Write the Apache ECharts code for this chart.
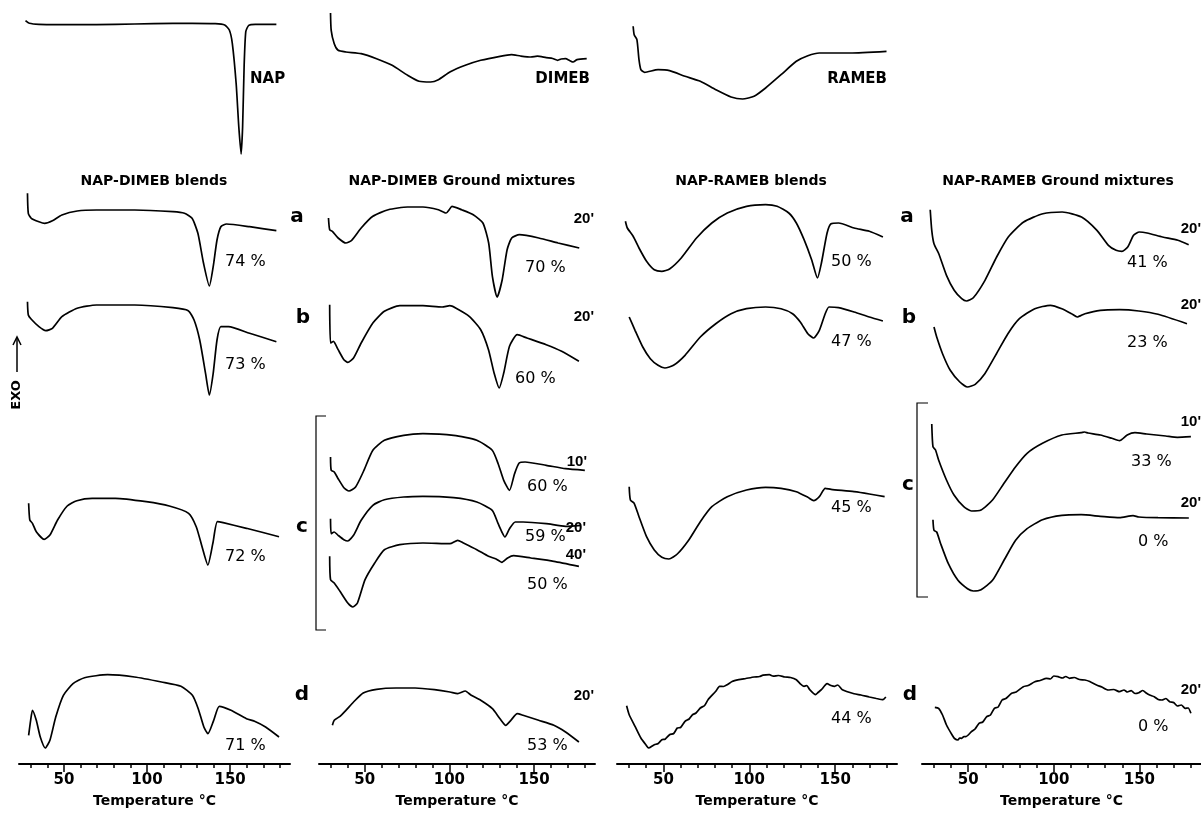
<!DOCTYPE html>
<html>
<head>
<meta charset="utf-8">
<style>
  html, body { margin: 0; padding: 0; background: #fff; }
  #chart { width: 1201px; height: 816px; }
</style>
<script src="https://cdn.jsdelivr.net/npm/echarts@6/dist/echarts.min.js"></script>
</head>
<body>
<div id="chart"></div>
<script>
// DSC traces: [temperature °C, heat flow (arb. units, exo up)]
const nap = [[26.9,133.3],[29.2,130.7],[35,129.7],[58,129.3],[81.1,129.7],[104.1,130.3],[127.1,130.7],[141,130.3],[146.7,129],[149.5,124],[151.3,110.7],[153.6,70.7],[155.2,27.3],[156.6,0],[157.5,27.3],[158.4,87.3],[159.4,122.3],[161.2,128.7],[165.1,129.7],[177.8,129.7]];
const dimeb = [[29.8,69],[30.2,51.7],[32,38.3],[34.3,31.7],[38.9,30],[47.9,28.3],[57,23.3],[66.2,16.7],[75.3,6.7],[82.1,0.7],[88.9,0],[93.5,2.3],[100.3,10],[109.4,16.7],[118.5,21.7],[129.9,25.7],[136.7,27.3],[142,26],[148.1,25],[152,25.8],[157.2,24.3],[161,23.5],[164,21.7],[166,23],[168.6,23.3],[171,21.5],[173.1,20],[175.4,22.3],[181.1,23.3]];
const rameb = [[32.4,72.7],[33,64.3],[34.6,59.3],[35.8,39.3],[36.9,29.3],[39.1,26.7],[46.9,29.3],[53.6,28.3],[62.6,22.7],[71.5,17.7],[80.5,9.3],[89.4,2],[96.1,0],[102.8,2.7],[109.5,11],[118.5,24.3],[127.4,37.7],[134.1,43.3],[140.8,46],[158.7,46],[179.9,47.7]];

// NAP-DIMEB blends
const dimBlendA = [[28.1,92.7],[28.6,72.7],[30.4,67.7],[35,64.3],[38.4,62.7],[43.1,65.3],[48.8,71],[58,75],[69.6,76],[92.6,76],[115.6,74.3],[122.5,72.7],[127.1,67.7],[130.6,52.7],[134,22.7],[137.5,0],[139.8,19.3],[142.1,46],[144.4,59.3],[147.8,62],[161.7,59.3],[177.8,55.3]];
const dimBlendB = [[28.1,93.3],[28.6,80],[30.4,75.7],[35,68.3],[39.1,64.3],[43.1,66.7],[48.8,78.3],[58,86.7],[69.6,90],[92.6,90],[115.6,87.3],[124.8,84.3],[128.3,75],[131.7,55],[135.2,21.7],[137.5,0],[139.8,21.7],[142.1,55],[144.4,68.3],[149,68.3],[161.7,61.7],[177.8,53.3]];
const dimBlendC = [[28.8,61.7],[29.5,45],[31.1,41.7],[33.4,33.3],[38.1,25.7],[41.6,30],[46.2,45],[52,59],[57.8,64.3],[67,66.7],[81,66.7],[99.5,63.3],[113.4,59],[125,51.7],[129.6,38.3],[133.1,18.3],[136.6,0],[139.6,21.7],[142.3,43.3],[145.8,42.3],[159.8,36.7],[179.4,28.3]];
const dimBlendD = [[28.8,12.7],[30,27.7],[31.1,37.7],[33.4,27.7],[35.8,11],[38.8,0],[41.6,7.7],[45.1,31],[49.7,52.7],[55.5,64.3],[62.4,70.3],[76.3,73.3],[92.5,71],[108.7,66],[120.4,61.7],[127.3,52.7],[130.8,39.3],[134.2,21],[136.6,14.3],[140.1,27.7],[143.5,41.7],[150.5,37.7],[159.8,29.3],[165,26.5],[171.3,21],[179.4,11]];

// NAP-DIMEB ground mixtures
const dimGrindA = [[28.6,79],[29.3,67.3],[30.9,65.7],[34.3,59],[38.9,54],[42.3,56.7],[47.9,69],[54.8,80.7],[63.9,87.3],[75.3,90],[84.4,90],[93.5,87.3],[98.1,84],[99.9,87.3],[101.5,90.7],[107.2,87.3],[114.1,82.3],[119.8,74],[123.2,54],[125.4,20.7],[128.2,0],[131.2,17.3],[134.1,47.3],[136.8,59],[141.4,62.3],[152.8,59],[164.2,54],[176.7,49]];
const dimGrindB = [[29.3,83.3],[29.8,45],[31.5,46.7],[34.3,38.3],[37.7,28.3],[40,25.7],[43.4,30],[47.9,45],[54.8,65],[61.6,76.7],[70.7,82.3],[84.4,82.3],[95.7,81],[100.3,82.3],[103.7,80],[111.7,71.7],[118.5,58.3],[123.1,38.3],[126.4,15],[129.4,0],[132.1,15],[135.5,41.7],[140.1,53.3],[145.8,50],[157.2,43.3],[166.3,36.7],[176.5,26.7]];
const dimGrindC10 = [[29.8,34],[30.2,20.7],[32,19],[34.3,12.3],[37.7,3.3],[40.7,0],[44.6,4],[49.1,19],[54.8,40.7],[61.6,50.7],[73,55.7],[84.4,57.3],[102.5,55.7],[116.2,50.7],[125.3,40.7],[128.8,27.3],[132.1,10.7],[135.5,0.7],[138.5,17.3],[141.2,28],[144.7,29],[157.2,25.7],[168.6,22.3],[180,20.7]];
const dimGrindC20 = [[29.8,22.3],[30.2,7.3],[32,9],[34.3,5.7],[37.7,1.3],[40,0],[43.4,5.7],[47.9,20.7],[54.8,35.7],[61.6,41.3],[73,44],[84.4,44.7],[102.5,43.3],[116.2,39],[125.3,30.7],[128.8,17.3],[131,9],[132.8,4],[135.5,12.3],[138.9,19],[143.5,19],[157.2,17.3],[168.6,14.7],[177.7,15.7]];
const dimGrindC40 = [[29.3,50.7],[29.8,27.3],[32,24],[35.4,15.7],[40,4],[43,0],[45.7,4],[50.2,27.3],[55.9,44],[61.6,57.3],[70.7,62.3],[84.4,64],[100.3,63.3],[104.9,66.7],[108.3,64],[116.2,57.3],[123.1,50.7],[127.6,48],[131,44.7],[134.4,49],[137.9,51.3],[148.1,49],[161.7,45.7],[176.5,40.7]];
const dimGrindD = [[30.9,16.7],[32,21.7],[35.4,25.7],[38.9,31.7],[43.4,40],[49.1,49],[57,52.7],[68.5,54],[79.8,54],[91.2,52.3],[100.3,50],[104.9,48.3],[109.4,51],[112.9,46.7],[118.5,41.7],[125.4,33.3],[129.9,23.3],[133.3,16.7],[136.3,21.7],[140.1,28.3],[143.5,26.7],[152.7,21.7],[161.7,16.7],[168.6,10],[176.5,0]];

// NAP-RAMEB blends
const ramBlendA = [[27.9,56.7],[29,50],[32.4,41.7],[35.8,30],[40.2,16.7],[44.7,8.3],[49.1,6.7],[53.6,9],[60.4,20],[69.3,40],[78.2,55],[87.2,65],[98.4,71.7],[109.5,73.3],[116.2,71.7],[123,65],[127.4,55],[131.9,38.3],[136.3,18.3],[139.7,0],[142,15],[145.3,45],[147.6,54.3],[152,55],[161,50],[169.9,46.7],[177.8,41]];
const ramBlendB = [[30.1,51],[33.5,37.7],[38,21],[42.4,9.3],[46.9,2.7],[50.9,0],[55.9,2.7],[62.6,12.7],[71.5,31],[80.5,44.3],[89.4,54.3],[98.4,59.3],[109.5,61],[118.5,59.3],[125.2,54.3],[129.7,46],[134.1,34.3],[137.5,30],[140.8,37.7],[144.2,54.3],[146.4,61],[152,60.3],[161,56],[169.9,51],[177.8,47]];
const ramBlendC = [[30.1,72.3],[30.8,59],[33,55.7],[35.8,42.3],[40.2,22.3],[44.7,9],[49.1,1.7],[53.2,0],[58.1,5],[64.8,19],[71.5,37.3],[78.2,52.3],[87.2,62.3],[98.4,69],[109.5,71.7],[118.5,70.7],[127.4,67.3],[134.1,61.7],[137.5,58.3],[140.8,62.3],[144.2,70.7],[147.6,69.7],[161,67.3],[169.9,65],[178.8,62.3]];
const ramBlendD = [[28.6,42.3],[30.1,33.3],[33.5,21.7],[36.9,10],[40.2,2.3],[41.3,0],[44.7,3.3],[47,4.5],[49.1,8.3],[51,8.8],[53.6,13.3],[56,14.5],[58.1,20],[60,20.5],[62.6,26.7],[65,29],[67,33.3],[69,35],[71.5,40],[74,42.5],[76,48.3],[80.5,56.7],[82.7,61.7],[85,61.5],[87.2,63.3],[90,66.5],[93.9,68.3],[98,69.5],[102.8,71],[106,71.5],[108,72.8],[111.7,73.3],[114,71.8],[117,72.5],[120.7,71],[124,70.5],[127.4,68.3],[129.5,64.5],[131.9,61.7],[133.5,62.5],[135.2,58.3],[138.6,53.3],[140,55.5],[142,58.3],[145.3,64.3],[147.5,62.5],[149.8,61.7],[151.5,63],[154.2,58.3],[161,54.3],[165,53],[169.9,51],[174,49.5],[177.8,48.3],[179.5,51]];

// NAP-RAMEB ground mixtures
const ramGrindA = [[27.8,91.3],[28.7,70.7],[30,57.3],[32.8,47.3],[37.3,25.7],[41.8,10.7],[46.2,2.3],[49,0],[53,3.3],[59.8,20.7],[66.6,44],[73.4,64],[82.4,79],[93.6,87.3],[104.9,89],[116.2,84],[125.2,70.7],[131.9,55.7],[136.4,50.7],[139.8,49.7],[143.2,54],[146.6,65.7],[150,69],[154.5,68],[163.5,64],[172.5,60.7],[178.8,56.3]];
const ramGrindB = [[30,60],[31.6,50],[35,33.3],[39.5,16.7],[45.1,5],[49.6,0],[54.1,2.7],[59.7,13.3],[66.5,33.3],[73.2,53.3],[79.9,68.3],[88.9,78.3],[98,81.7],[104.7,78.3],[110.4,73.3],[113.7,70],[118.2,73.3],[127.2,76.7],[138.4,77.3],[149.7,76],[160.9,72.7],[177.8,63.3]];
const ramGrindC10 = [[28.7,87],[29.4,64.3],[30.9,61],[32.7,51],[37.3,31],[41.7,16],[47.4,4.3],[51.9,0],[57.5,1],[64.2,11],[70.9,27.7],[77.7,44.3],[84.4,57.7],[93.4,67.7],[104.7,76],[116,78.3],[118,79],[120,78],[127.2,76],[133.9,72.7],[138.4,70.3],[142.9,76],[147.4,78.3],[154.2,77],[165.4,75],[172.2,73.7],[180.1,74.3]];
const ramGrindC20 = [[29.4,71.3],[30,60.7],[31.6,59],[33.9,47.3],[38.4,27.3],[44,10.7],[49.6,2.3],[53,0],[57.5,1.3],[64.2,10.7],[70.9,30.7],[77.7,50.7],[84.4,62.3],[93.4,71.3],[104.7,75.7],[116,76.3],[127.2,74.7],[138.4,73.3],[146.3,75.3],[149.7,74],[160.9,73.3],[178.9,73]];
const ramGrindD = [[30.5,32.7],[32.7,31.7],[35,25],[37.3,15],[40.6,5],[42,1.5],[44,0],[45,2],[46.2,1.7],[47.5,3.5],[48.5,3.3],[51.9,8.3],[54,11],[56.3,16.7],[58.5,18],[60.8,23.3],[63,25],[65.3,31.7],[67.5,33],[69.8,40],[72,41.5],[75.4,46.7],[78,48],[82.2,53.3],[85,54.5],[88.9,58.3],[92,59.5],[95.7,61.7],[98,61],[100,64],[102.5,63.3],[105,62],[107,63.5],[109.2,61.7],[112,62.5],[115,60.5],[118.2,60],[121,58.5],[125,55],[128,53],[131.7,50],[135,50.5],[138.4,48.3],[141,50],[143,48],[145.2,49.3],[147.5,46.5],[149.7,47.3],[152,49.5],[154.2,46.7],[156,45],[158.7,43.3],[161,40.5],[163.2,40],[165.5,41.5],[167.7,38.3],[170,37.5],[172.2,34],[174.5,35],[176.7,31.7],[178.5,32],[180.1,26.7]];

const minorTicks = [30, 40, 50, 60, 70, 80, 90, 100, 110, 120, 130, 140, 150, 160, 170, 180];
const majorTicks = [50, 100, 150];

// layout
const tMin = 23, tMax = 186;
const cols = [[19, 271], [319, 276], [617, 280], [922, 279]];
const axisY = 764;
const traces = [
  { data: nap, col: 0, base: 154, h: 134 },
  { data: dimeb, col: 1, base: 82, h: 69 },
  { data: rameb, col: 2, base: 99, h: 73 },
  { data: dimBlendA, col: 0, base: 286, h: 93 },
  { data: dimBlendB, col: 0, base: 395, h: 94 },
  { data: dimBlendC, col: 0, base: 565, h: 67 },
  { data: dimBlendD, col: 0, base: 748, h: 74 },
  { data: dimGrindA, col: 1, base: 297, h: 91 },
  { data: dimGrindB, col: 1, base: 388, h: 84 },
  { data: dimGrindC10, col: 1, base: 491, h: 58 },
  { data: dimGrindC20, col: 1, base: 541, h: 45 },
  { data: dimGrindC40, col: 1, base: 607, h: 67 },
  { data: dimGrindD, col: 1, base: 742, h: 54 },
  { data: ramBlendA, col: 2, base: 278, h: 74 },
  { data: ramBlendB, col: 2, base: 368, h: 61 },
  { data: ramBlendC, col: 2, base: 559, h: 72 },
  { data: ramBlendD, col: 2, base: 748, h: 74 },
  { data: ramGrindA, col: 3, base: 301, h: 92 },
  { data: ramGrindB, col: 3, base: 387, h: 82 },
  { data: ramGrindC10, col: 3, base: 511, h: 87 },
  { data: ramGrindC20, col: 3, base: 591, h: 76 },
  { data: ramGrindD, col: 3, base: 740, h: 64 }
];

const sans = '"DejaVu Sans", sans-serif';
const timeFont = 'bold 15px "Liberation Sans", Arial';
const pctFont = '16px ' + sans;
const letterFont = 'bold 20px ' + sans;
const labels = [
  // text, x, y, align, font
  ['NAP', 250, 79, 'left', 'bold 15px ' + sans],
  ['DIMEB', 590, 79, 'right', 'bold 15px ' + sans],
  ['RAMEB', 887, 79, 'right', 'bold 15px ' + sans],
  ['NAP-DIMEB blends', 154, 181, 'center', 'bold 14px ' + sans],
  ['NAP-DIMEB Ground mixtures', 462, 181, 'center', 'bold 14px ' + sans],
  ['NAP-RAMEB blends', 751, 181, 'center', 'bold 14px ' + sans],
  ['NAP-RAMEB Ground mixtures', 1058, 181, 'center', 'bold 14px ' + sans],
  ['a', 297, 217, 'center', letterFont],
  ['b', 303, 318, 'center', letterFont],
  ['c', 302, 527, 'center', letterFont],
  ['d', 302, 695, 'center', letterFont],
  ['a', 907, 217, 'center', letterFont],
  ['b', 909, 318, 'center', letterFont],
  ['c', 908, 485, 'center', letterFont],
  ['d', 910, 695, 'center', letterFont],
  ["20'", 594, 219, 'right', timeFont],
  ["20'", 594, 317, 'right', timeFont],
  ["10'", 587, 462, 'right', timeFont],
  ["20'", 586, 528, 'right', timeFont],
  ["40'", 586, 555, 'right', timeFont],
  ["20'", 594, 696, 'right', timeFont],
  ["20'", 1201, 229, 'right', timeFont],
  ["20'", 1201, 305, 'right', timeFont],
  ["10'", 1201, 422, 'right', timeFont],
  ["20'", 1201, 503, 'right', timeFont],
  ["20'", 1201, 690, 'right', timeFont],
  ['74 %', 225, 262, 'left', pctFont],
  ['73 %', 225, 365, 'left', pctFont],
  ['72 %', 225, 557, 'left', pctFont],
  ['71 %', 225, 746, 'left', pctFont],
  ['70 %', 525, 268, 'left', pctFont],
  ['60 %', 515, 379, 'left', pctFont],
  ['60 %', 527, 487, 'left', pctFont],
  ['59 %', 525, 537, 'left', pctFont],
  ['50 %', 527, 585, 'left', pctFont],
  ['53 %', 527, 746, 'left', pctFont],
  ['50 %', 831, 262, 'left', pctFont],
  ['47 %', 831, 342, 'left', pctFont],
  ['45 %', 831, 508, 'left', pctFont],
  ['44 %', 831, 719, 'left', pctFont],
  ['41 %', 1127, 263, 'left', pctFont],
  ['23 %', 1127, 343, 'left', pctFont],
  ['33 %', 1131, 462, 'left', pctFont],
  ['0 %', 1138, 542, 'left', pctFont],
  ['0 %', 1138, 727, 'left', pctFont]
];

const grid = [], xAxis = [], yAxis = [], series = [];

traces.forEach((t, i) => {
  grid.push({ left: cols[t.col][0], width: cols[t.col][1], top: t.base - t.h, height: t.h });
  xAxis.push({ type: 'value', gridIndex: i, min: tMin, max: tMax, show: false });
  yAxis.push({ type: 'value', gridIndex: i, min: 0, max: t.h, show: false });
  series.push({
    type: 'line',
    xAxisIndex: i,
    yAxisIndex: i,
    data: t.data,
    showSymbol: false,
    smooth: 0.2,
    clip: false,
    silent: true,
    lineStyle: { color: '#000', width: 1.7 }
  });
});

cols.forEach((c) => {
  const gi = grid.length;
  grid.push({ left: c[0], width: c[1], top: axisY - 60, height: 60 });
  yAxis.push({ type: 'value', gridIndex: gi, min: 0, max: 1, show: false });
  // minor ticks + axis line
  xAxis.push({
    type: 'value', gridIndex: gi, min: tMin, max: tMax, position: 'bottom',
    axisLine: { show: true, lineStyle: { color: '#000', width: 2 } },
    axisTick: { show: true, customValues: minorTicks, length: 4, lineStyle: { color: '#000', width: 1.5 } },
    axisLabel: { show: false },
    splitLine: { show: false }
  });
  // major ticks + labels
  xAxis.push({
    type: 'value', gridIndex: gi, min: tMin, max: tMax, position: 'bottom',
    axisLine: { show: false },
    axisTick: { show: true, customValues: majorTicks, length: 8, lineStyle: { color: '#000', width: 1.5 } },
    axisLabel: {
      customValues: majorTicks, margin: 9, color: '#000',
      fontFamily: sans, fontWeight: 'bold', fontSize: 15
    },
    splitLine: { show: false },
    name: 'Temperature °C',
    nameLocation: 'middle',
    nameGap: 30,
    nameTextStyle: { color: '#000', fontFamily: sans, fontWeight: 'bold', fontSize: 14 }
  });
});

const graphic = labels.map(l => ({
  type: 'text',
  x: l[1],
  y: l[2],
  silent: true,
  style: { text: l[0], font: l[4], fill: '#000', align: l[3], verticalAlign: 'middle' }
}));

graphic.push(
  { type: 'text', x: 17, y: 395, rotation: Math.PI / 2, silent: true,
    style: { text: 'EXO', font: 'bold 13px ' + sans, fill: '#000', align: 'center', verticalAlign: 'middle' } },
  { type: 'polyline', silent: true, shape: { points: [[17, 372], [17, 338]] }, style: { stroke: '#000', lineWidth: 1.5 } },
  { type: 'polyline', silent: true, shape: { points: [[13, 345], [17, 337], [21, 345]] }, style: { stroke: '#000', lineWidth: 1.5, fill: null } },
  { type: 'polyline', silent: true, shape: { points: [[326, 416], [316, 416], [316, 630], [326, 630]] }, style: { stroke: '#000', lineWidth: 1.2, fill: null } },
  { type: 'polyline', silent: true, shape: { points: [[928, 403], [917, 403], [917, 597], [928, 597]] }, style: { stroke: '#000', lineWidth: 1.2, fill: null } }
);

const myChart = echarts.init(document.getElementById('chart'));
const option = {
  animation: false,
  backgroundColor: '#fff',
  grid: grid,
  xAxis: xAxis,
  yAxis: yAxis,
  series: series,
  graphic: graphic
};
option && myChart.setOption(option);
</script>
</body>
</html>
